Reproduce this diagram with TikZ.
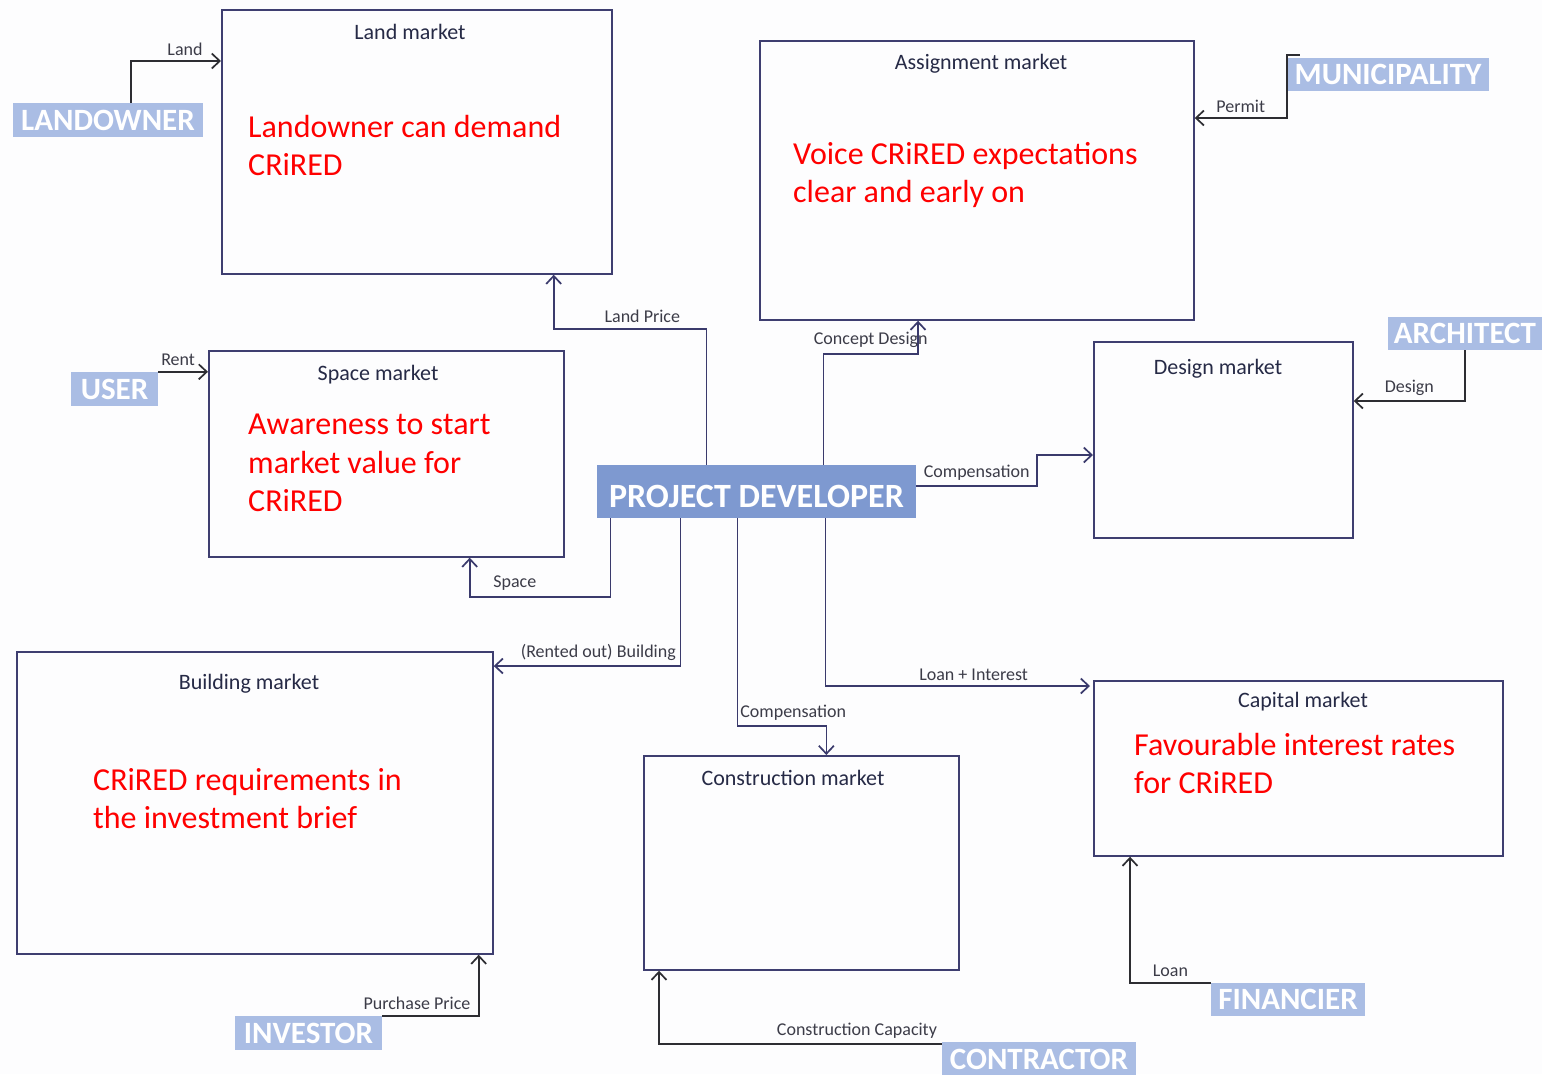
\documentclass[tikz,border=0pt]{standalone}
\usepackage{fontspec}
\setmainfont{Carlito}
\usetikzlibrary{arrows.meta}

\definecolor{boxline}{RGB}{62,62,112}
\definecolor{flowline}{RGB}{58,58,108}
\definecolor{actorline}{RGB}{45,45,50}
\definecolor{actorfill}{RGB}{170,189,228}
\definecolor{devfill}{RGB}{126,153,208}
\definecolor{titletext}{RGB}{38,42,70}
\definecolor{labeltext}{RGB}{60,60,72}
\definecolor{paper}{RGB}{253,253,254}

\begin{document}
\begin{tikzpicture}[x=1pt, y=-1pt,
    market/.style={draw=boxline, line width=1.7pt, anchor=north west, inner sep=0pt},
    title/.style={font=\fontsize{22}{26}\selectfont, text=titletext},
    note/.style={font=\fontsize{32}{38.5}\selectfont, text=red, align=left, anchor=north west, inner sep=0pt},
    actor/.style={fill=actorfill, text=white, font=\fontsize{31}{34}\selectfont\bfseries, inner sep=0pt},
    flow/.style={draw=flowline, line width=1.7pt, -{Straight Barb[length=8pt,width=15pt]}},
    supply/.style={flow, draw=actorline},
    lbl/.style={font=\fontsize{18}{20}\selectfont, text=labeltext, inner sep=2pt, yshift=3pt}
]

    % Page background and fixed frame
    \useasboundingbox (0,0) rectangle (1542,1074);
    \fill[paper] (0,0) rectangle (1542,1074);

    % The seven markets: plain boxes, placed by their top left corner
    \node[market, minimum width=390pt, minimum height=264pt] (land) at (221,9) {};
    \node[market, minimum width=434pt, minimum height=279pt] (assign) at (759,40) {};
    \node[market, minimum width=259pt, minimum height=196pt] (design) at (1093,341) {};
    \node[market, minimum width=355pt, minimum height=206pt] (space) at (208,350) {};
    \node[market, minimum width=476pt, minimum height=302pt] (building) at (16,651) {};
    \node[market, minimum width=315pt, minimum height=214pt] (constr) at (643,755) {};
    \node[market, minimum width=409pt, minimum height=175pt] (capital) at (1093,680) {};

    % Market names
    \node[title] (landtitle) at (410,32) {Land market};
    \node[title] (assigntitle) at (981,64) {Assignment market};
    \node[title] (designtitle) at (1218,369) {Design market};
    \node[title] (spacetitle) at (378,375) {Space market};
    \node[title] (buildingtitle) at (249,684) {Building market};
    \node[title] (constrtitle) at (793,778) {Construction market};
    \node[title] (capitaltitle) at (1303,702) {Capital market};

    % Red remarks inside the boxes
    \node[note] (landnote) at (248,115) {Landowner can demand\\CRiRED};
    \node[note] (assignnote) at (793,142) {Voice CRiRED expectations\\clear and early on};
    \node[note] (spacenote) at (248,414) {Awareness to start\\market value for\\CRiRED};
    \node[note] (buildingnote) at (93,768) {CRiRED requirements in\\the investment brief};
    \node[note] (capitalnote) at (1134,733) {Favourable interest rates\\for CRiRED};

    % The actors
    \node[actor, minimum width=190pt, minimum height=34pt] (landowner) at (108,120) {LANDOWNER};
    \node[actor, minimum width=202pt, minimum height=33pt] (muni) at (1388,74.5) {MUNICIPALITY};
    \node[actor, minimum width=155pt, minimum height=33pt] (architect) at (1465,333.5) {ARCHITECT};
    \node[actor, minimum width=87pt, minimum height=34pt] (user) at (114.5,389) {USER};
    \node[actor, fill=devfill, font=\fontsize{34}{36}\selectfont\bfseries, text height=32pt, text depth=0pt,
        minimum width=319pt, minimum height=53pt] (pd) at (756.5,491.5) {PROJECT DEVELOPER};
    \node[actor, minimum width=147pt, minimum height=34pt] (investor) at (308.5,1033) {INVESTOR};
    \node[actor, minimum width=194pt, minimum height=34pt] (contractor) at (1039,1059) {CONTRACTOR};
    \node[actor, minimum width=154pt, minimum height=33pt] (financier) at (1288,999.5) {FINANCIER};

    % What the actors bring into each market
    \draw[supply] ([xshift=23pt]landowner.north) |- node[lbl, pos=0.8, above] {Land} ([yshift=-52pt]land.north west);
    \draw[supply] ([shift={(13pt,3pt)}]muni.north west) -- ([yshift=3pt]muni.north west)
        |- node[lbl, pos=0.75, above] {Permit} ([yshift=-78pt]assign.north east);
    \draw[supply] (architect.south) |- node[lbl, pos=0.75, above] {Design} ([yshift=-60pt]design.north east);
    \draw[supply] (user.north east) -- node[lbl, pos=0.4, above] {Rent} (user.north east -| space.west);
    \draw[supply] (investor.north east) -| node[lbl, pos=0.18, above] {Purchase Price} ([xshift=-15pt]building.south east);
    \draw[supply] ([yshift=-2pt]contractor.north west) -| node[lbl, pos=0.15, above] {Construction Capacity} ([xshift=16pt]constr.south west);
    \draw[supply] (financier.north west) -| node[lbl, pos=0.25, above] {Loan} ([xshift=37pt]capital.south west);

    % What the project developer gives to each market
    \draw[flow] ([xshift=-50pt]pd.north) |- node[lbl, pos=0.71, above] {Land Price}
        ([shift={(-59pt,-54pt)}]land.south east) -- ([xshift=-59pt]land.south east);
    \draw[flow] ([xshift=67pt]pd.north) |- node[lbl, pos=0.75, above] {Concept Design}
        ([shift={(159pt,-33pt)}]assign.south west) -- ([xshift=159pt]assign.south west);
    \draw[flow] ([yshift=5.5pt]pd.east) -- node[lbl, above] {Compensation} ++(121pt,0)
        |- ([yshift=-114pt]design.north west);
    \draw[flow] ([xshift=-146pt]pd.south) |- node[lbl, pos=0.84, above] {Space}
        ([shift={(-95pt,-39pt)}]space.south east) -- ([xshift=-95pt]space.south east);
    \draw[flow] ([xshift=-76pt]pd.south) |- node[lbl, pos=0.72, above] {(Rented out) Building} ([yshift=-15pt]building.north east);
    \draw[flow] ([xshift=-19pt]pd.south) |- node[lbl, pos=0.5, above right] {Compensation}
        ([shift={(25pt,29pt)}]constr.north) -- ([xshift=25pt]constr.north);
    \draw[flow] ([xshift=69pt]pd.south) |- node[lbl, pos=0.78, above] {Loan + Interest} ([shift={(-3pt,-6pt)}]capital.north west);

\end{tikzpicture}
\end{document}
